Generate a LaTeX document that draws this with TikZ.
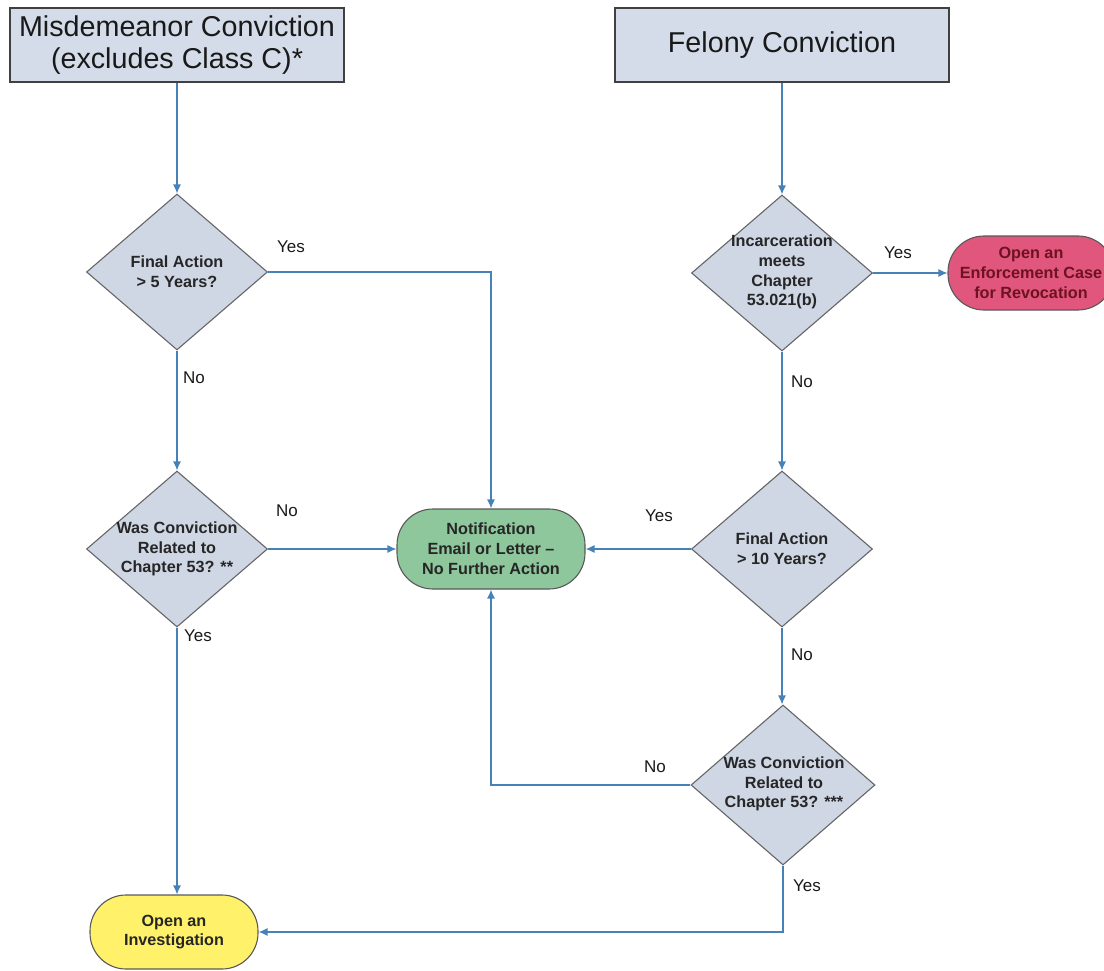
\documentclass[tikz,border=0pt]{standalone}
\usepackage{fontspec}
\setmainfont{Liberation Sans}
\usetikzlibrary{shapes.geometric,arrows.meta}
\definecolor{boxfill}{HTML}{D5DCE9}
\definecolor{dfill}{HTML}{CFD6E4}
\definecolor{greenfill}{HTML}{8EC79B}
\definecolor{yellowfill}{HTML}{FFF26A}
\definecolor{pinkfill}{HTML}{E0567C}
\definecolor{linecol}{HTML}{4682B8}
\definecolor{pinktext}{HTML}{6E1222}
\begin{document}
\begin{tikzpicture}[x=1pt,y=-1pt,
  headbox/.style={draw=black!75, line width=1.3pt, fill=boxfill, minimum width=334pt, minimum height=74pt,
    font=\fontsize{28.7}{32.5}\selectfont, align=center, inner sep=0pt, text=black!90},
  decision/.style={diamond, draw=black!60, line width=1.1pt, fill=dfill, minimum width=181pt, minimum height=156pt, inner sep=0pt},
  dtext/.style={font=\bfseries\fontsize{16.2}{19.8}\selectfont, align=center, text=black!85, inner sep=0pt},
  terminal/.style={draw=black!65, line width=1.1pt, rounded corners=36pt, font=\bfseries\fontsize{16.2}{19.8}\selectfont, align=center, inner sep=0pt},
  lbl/.style={font=\fontsize{17}{20}\selectfont, text=black!90, inner sep=0pt},
  arr/.style={draw=linecol, line width=1.2pt, -{Latex[length=9pt,width=8pt]}},
  ln/.style={draw=linecol, line width=1.2pt}]
\useasboundingbox (0,0) rectangle (1104,971);
\clip (0,0) rectangle (1104,971);

% top boxes
\node[headbox] (m) at (177,45) {Misdemeanor Conviction\\(excludes Class C)*};
\node[headbox] (f) at (782,45) {Felony Conviction};

% decisions
\node[decision] (d1) at (177,272) {};
\node[dtext] (d1t) at (177,272) {Final Action\\> 5 Years?};
\node[decision] (d2) at (177,549) {};
\node[dtext] (d2t) at (177,549) {Was Conviction\\Related to\\Chapter 53? **};
\node[decision] (d3) at (782,273) {};
\node[dtext] (d3t) at (782,272) {Incarceration\\meets\\Chapter\\53.021(b)};
\node[decision] (d4) at (782,549) {};
\node[dtext] (d4t) at (782,549) {Final Action\\> 10 Years?};
\node[decision, minimum width=184pt, minimum height=160pt] (d5) at (783,785) {};
\node[dtext] (d5t) at (784,784) {Was Conviction\\Related to\\Chapter 53? ***};

% terminals
\node[terminal, fill=greenfill, minimum width=188pt, minimum height=80pt, text=black!85] (n) at (491,549) {Notification\\Email or Letter --\\No Further Action};
\node[terminal, fill=yellowfill, minimum width=168pt, minimum height=74pt, text=black!85] (inv) at (174,932) {Open an\\Investigation};
\node[terminal, fill=pinkfill, minimum width=166pt, minimum height=74pt, text=pinktext] (e) at (1031,273) {Open an\\Enforcement Case\\for Revocation};

% connectors
\draw[arr] (m.south) -- (d1.north);
\draw[arr] (d1.east) -| (n.north);
\draw[arr] (d1.south) -- (d2.north);
\draw[arr] (d2.east) -- (n.west);
\draw[arr] (d2.south) -- (d2.south |- inv.north);
\draw[arr] (f.south) -- (d3.north);
\draw[arr] (d3.east) -- (e.west);
\draw[arr] (d3.south) -- (d4.north);
\draw[arr] (d4.west) -- (n.east);
\draw[arr] (d4.south) -- (d4.south |- d5.north);
\draw[arr] (d5.west) -| (n.south);
\draw[arr] (d5.south) |- (inv.east);

% labels
\node[lbl] (l1) at (291,247) {Yes};
\node[lbl] (l2) at (194,378) {No};
\node[lbl] (l3) at (287,511) {No};
\node[lbl] (l4) at (198,636) {Yes};
\node[lbl] (l5) at (898,253) {Yes};
\node[lbl] (l6) at (802,382) {No};
\node[lbl] (l7) at (659,516) {Yes};
\node[lbl] (l8) at (802,655) {No};
\node[lbl] (l9) at (655,767) {No};
\node[lbl] (l10) at (807,886) {Yes};
\end{tikzpicture}
\end{document}
